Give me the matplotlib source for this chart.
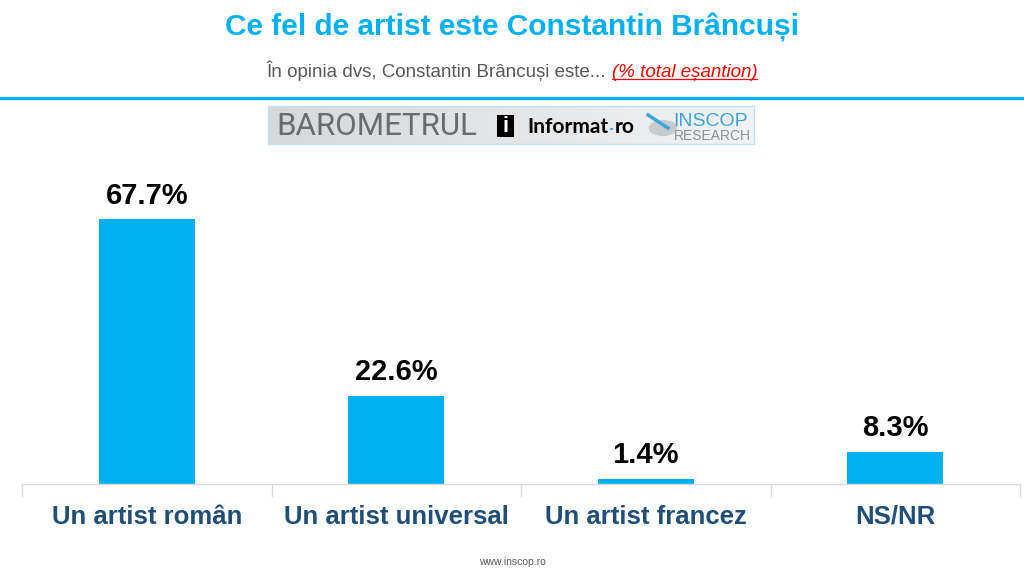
import matplotlib
matplotlib.use('Agg')
import matplotlib.pyplot as plt
import numpy as np
from matplotlib.patches import Rectangle, Circle
from matplotlib.lines import Line2D
from matplotlib.colors import LinearSegmentedColormap

categories = ['Un artist român', 'Un artist universal', 'Un artist francez', 'NS/NR']
values = [67.7, 22.6, 1.4, 8.3]
value_labels = ['67.7%', '22.6%', '1.4%', '8.3%']

title = 'Ce fel de artist este Constantin Brâncuși'
subtitle = 'În opinia dvs, Constantin Brâncuși este... '
subtitle_red = '(% total eșantion)'
footer = 'www.inscop.ro'

BLUE = '#00B0F0'
DARK = '#1F4E79'
W, H = 1024, 576

plt.rcParams['font.family'] = ['Liberation Sans', 'DejaVu Sans']

fig = plt.figure(figsize=(10.24, 5.76), dpi=100)
fig.patch.set_facecolor('white')

def fx(x):
    return x / W

def fy(y):
    return 1 - y / H

# chart area
ax = fig.add_axes([fx(22), fy(484), fx(1020) - fx(22), fy(171) - fy(484)])
x = range(len(categories))
ax.bar(x, values, width=0.385, color=BLUE)
ax.set_xlim(-0.5, len(categories) - 0.5)
ax.set_ylim(0, 80)
for i, v in enumerate(values):
    ax.text(i, v + 2.4, value_labels[i], ha='center', va='bottom',
            fontsize=21, fontweight='bold', color='black')
ax.set_yticks([])
ax.set_xticks(x)
ax.set_xticklabels(categories, fontsize=18.5, fontweight='bold', color=DARK)
ax.tick_params(axis='x', length=0, pad=15)
# category separators below axis
ax.set_xticks([i - 0.5 for i in range(len(categories) + 1)], minor=True)
ax.tick_params(axis='x', which='minor', length=9, color='#D9D9D9', width=1)
for s in ['top', 'right', 'left']:
    ax.spines[s].set_visible(False)
ax.spines['bottom'].set_color('#D9D9D9')
ax.spines['bottom'].set_linewidth(1)

# header
fig.text(0.5, fy(27), title, ha='center', va='center', fontsize=21.5,
         fontweight='bold', color=BLUE)
t1 = fig.text(0, fy(77), subtitle, ha='left', va='baseline',
              fontsize=13.5, color='#595959')
t2 = fig.text(0, fy(77), subtitle_red, ha='left', va='baseline',
              fontsize=13.5, color='#FF0000', style='italic')
fig.canvas.draw()
w1 = t1.get_window_extent().width
w2 = t2.get_window_extent().width
x0 = (W - w1 - w2) / 2
t1.set_x(fx(x0))
t2.set_x(fx(x0 + w1))
fig.canvas.draw()
bb = t2.get_window_extent()
fig.add_artist(Line2D([bb.x0 / W, bb.x1 / W], [fy(79)] * 2,
                      color='#FF0000', lw=0.9, transform=fig.transFigure))

fig.add_artist(Line2D([0, 1], [fy(98)] * 2, color=BLUE, lw=2.4,
                      transform=fig.transFigure))

# logo strip
lax = fig.add_axes([fx(268), fy(144), fx(754) - fx(268), fy(106) - fy(144)])
grad = LinearSegmentedColormap.from_list('g', ['#D6D8DA', '#F2F3F5'])
lax.imshow(np.linspace(0, 1, 256).reshape(1, -1), cmap=grad, aspect='auto',
           extent=[0, 1, 0, 1])
lax.set_xticks([])
lax.set_yticks([])
for s in lax.spines.values():
    s.set_color('#BFE0EE')
    s.set_linewidth(1)

fig.text(fx(276), fy(126.5), 'BAROMETRUL', ha='left', va='center', fontsize=22.5,
         color='#6A6B6D', fontweight='normal', family=['Roboto', 'DejaVu Sans'])
fig.add_artist(Rectangle((fx(497), fy(137)), fx(514) - fx(497), fy(115) - fy(137),
                         facecolor='black', transform=fig.transFigure))
fig.text(fx(505.5), fy(126.5), 'i', ha='center', va='center', fontsize=16,
         fontweight='bold', color='white')
ta = fig.text(fx(527), fy(133), 'Informat', ha='left', va='baseline', fontsize=15,
              fontweight='bold', color='black', family=['Lato', 'DejaVu Sans'])
fig.canvas.draw()
xa = ta.get_window_extent().x1
fig.add_artist(Circle(((xa + 3.5) / W, fy(129)), 0.0018, facecolor='#3DA5DC',
                      edgecolor='none', transform=fig.transFigure))
fig.text((xa + 7) / W, fy(133), 'ro', ha='left', va='baseline', fontsize=15,
         fontweight='bold', color='black', family=['Lato', 'DejaVu Sans'])
fig.add_artist(Circle((fx(663), fy(128)), 0.014, facecolor='#C8CACC',
                      edgecolor='none', transform=fig.transFigure))
fig.add_artist(Line2D([fx(648), fx(668)], [fy(115), fy(128)], color='#3DA5DC',
                      lw=2.5, transform=fig.transFigure))
fig.text(fx(673), fy(121.5), 'INSCOP', ha='left', va='center', fontsize=14,
         color='#3DA5DC')
fig.text(fx(674), fy(136), 'RESEARCH', ha='left', va='center', fontsize=10,
         color='#8E9094')

fig.text(0.5, fy(562), footer, ha='center', va='center', fontsize=7.5,
         color='#595959')

fig.savefig('out.png', dpi=100, facecolor='white')
